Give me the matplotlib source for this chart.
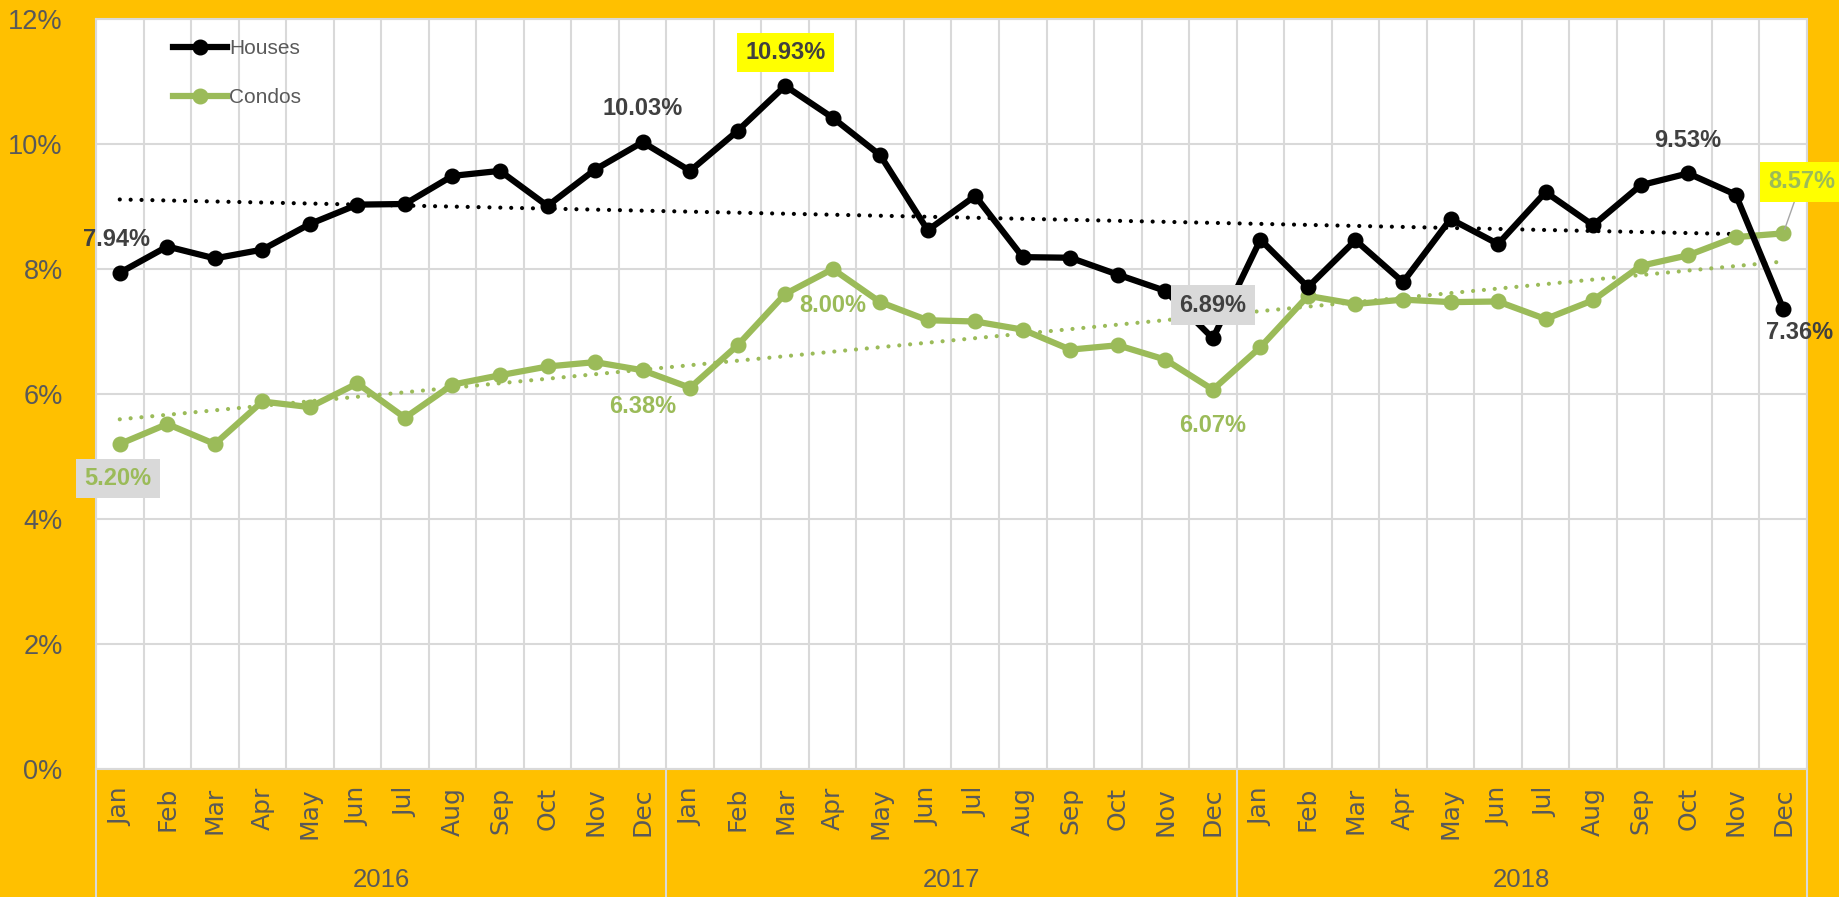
import numpy as np
import matplotlib
matplotlib.use('Agg')
import matplotlib.pyplot as plt

months = ['Jan', 'Feb', 'Mar', 'Apr', 'May', 'Jun', 'Jul', 'Aug', 'Sep', 'Oct', 'Nov', 'Dec']
years = ['2016', '2017', '2018']

houses = [7.94, 8.36, 8.17, 8.31, 8.72, 9.03, 9.04, 9.49, 9.57, 9.01, 9.59, 10.03,
          9.57, 10.21, 10.93, 10.42, 9.82, 8.62, 9.17, 8.19, 8.18, 7.91, 7.65, 6.89,
          8.47, 7.71, 8.46, 7.79, 8.80, 8.40, 9.23, 8.70, 9.34, 9.53, 9.19, 7.36]
condos = [5.20, 5.52, 5.20, 5.88, 5.79, 6.17, 5.62, 6.15, 6.30, 6.44, 6.51, 6.38,
          6.10, 6.78, 7.60, 8.00, 7.47, 7.18, 7.16, 7.03, 6.71, 6.78, 6.55, 6.07,
          6.75, 7.57, 7.44, 7.51, 7.47, 7.48, 7.20, 7.50, 8.05, 8.22, 8.51, 8.57]
y_ticks = [0, 2, 4, 6, 8, 10, 12]

ORANGE = '#FFC000'
GREEN = '#9BBB59'
GRID = '#D9D9D9'
GRAY_TXT = '#595959'
DARK_TXT = '#404040'
SANS = ['Liberation Sans', 'DejaVu Sans']

x = np.arange(len(houses))
labels = [m for y in years for m in months]

fig = plt.figure(figsize=(18.4, 8.97), dpi=100, facecolor=ORANGE)
ax = fig.add_axes([96 / 1840, 128 / 897, 1711 / 1840, 750 / 897])
ax.set_facecolor('white')

# trend lines (linear fit)
for vals, col in [(houses, 'black'), (condos, GREEN)]:
    k, b = np.polyfit(x, vals, 1)
    ax.plot(x, k * x + b, color=col, lw=3.0, linestyle=(0, (0.01, 2.6)),
            dash_capstyle='round', zorder=2)

ax.plot(x, houses, color='black', lw=4.5, marker='o', markersize=10.5, label='Houses', zorder=4)
ax.plot(x, condos, color=GREEN, lw=4.5, marker='o', markersize=10.5, label='Condos', zorder=3)

ax.set_xlim(-0.5, len(houses) - 0.5)
ax.set_ylim(0, 12)
ax.set_yticks(y_ticks)
ax.set_yticklabels([f'{v}%' for v in y_ticks], family=SANS, fontsize=19.5, color=GRAY_TXT)
ax.set_xticks(x)
ax.set_xticklabels(labels, rotation=90, family='DejaVu Sans', fontsize=18, color=GRAY_TXT)
ax.set_xticks(np.arange(-0.5, len(houses), 1), minor=True)
ax.tick_params(axis='y', length=0, pad=24)
ax.tick_params(axis='x', which='both', length=0, pad=13)
ax.grid(which='minor', axis='x', color=GRID, lw=1.5)
ax.grid(which='major', axis='y', color=GRID, lw=1.5)
ax.set_axisbelow(True)
for s in ax.spines.values():
    s.set_color(GRID)
    s.set_linewidth(1.5)

# year group separators and labels
trans = ax.get_xaxis_transform()
for i in range(len(years) + 1):
    ax.plot([i * 12 - 0.5] * 2, [0, -0.2], transform=trans, color=GRID, lw=1.5, clip_on=False)
for i, yr in enumerate(years):
    ax.text(i * 12 + 5.5, -0.148, yr, transform=trans, ha='center', va='center',
            family=SANS, fontsize=18.5, color=GRAY_TXT)

# data labels
def label(idx, vals, dx, dy, color, box=None):
    kw = dict(xy=(idx, vals[idx]), xytext=(dx, dy), textcoords='offset points',
              ha='center', va='center', family=SANS, fontsize=17, fontweight='bold',
              color=color, zorder=6, annotation_clip=False)
    if box:
        kw['bbox'] = dict(boxstyle='square,pad=0.35', fc=box, ec='none')
    ax.annotate(f'{vals[idx]:.2f}%', **kw)

label(0, houses, -2, 24, DARK_TXT)
label(11, houses, 0, 24, DARK_TXT)
label(14, houses, 0, 24, DARK_TXT, box='#FFFF00')
label(23, houses, 0, 24, DARK_TXT, box=GRID)
label(33, houses, 0, 24, DARK_TXT)
label(35, houses, 12, -17, DARK_TXT)
label(0, condos, -1.5, -25, GREEN, box=GRID)
label(11, condos, 0, -26, GREEN)
label(15, condos, 0, -26, GREEN)
label(23, condos, 0, -26, GREEN)

ax.annotate(f'{condos[35]:.2f}%', xy=(35, condos[35]), xytext=(13, 37), textcoords='offset points',
            ha='center', va='center', family=SANS, fontsize=17, fontweight='bold', color=GREEN,
            bbox=dict(boxstyle='square,pad=0.35', fc='#FFFF00', ec='none'),
            arrowprops=dict(arrowstyle='-', color='#A6A6A6', lw=1, shrinkA=0, shrinkB=3),
            zorder=6, annotation_clip=False)

leg = ax.legend(loc='upper left', bbox_to_anchor=(0.045, 0.973), frameon=False, borderpad=0,
                borderaxespad=0, handlelength=2.6, handletextpad=0.1, labelspacing=1.45,
                prop={'family': SANS, 'size': 15})
for t in leg.get_texts():
    t.set_color(GRAY_TXT)

fig.savefig('out.png', dpi=100, facecolor=ORANGE)
